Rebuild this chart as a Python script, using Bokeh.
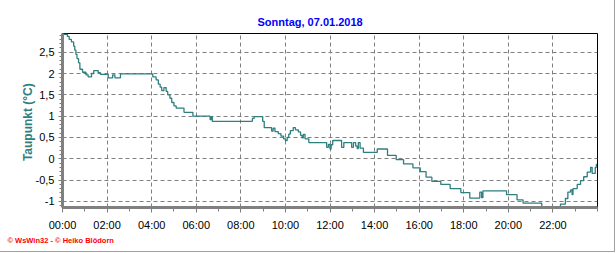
from bokeh.plotting import figure
from bokeh.models import FixedTicker, Range1d, Title
from bokeh.embed import file_html
from bokeh.resources import INLINE

title_text = "Sonntag, 07.01.2018"
y_label = "Taupunkt  (°C)"
footer_text = "© WsWin32  -  © Heiko Blödorn"

hours = [0.00, 0.22, 0.30, 0.40, 0.50, 0.55, 0.60, 0.65, 0.72, 0.78, 0.90, 1.05, 1.15, 1.30,
         1.40, 1.60, 1.70, 2.05, 2.25, 2.35, 2.60, 4.05, 4.20, 4.30, 4.38, 4.45, 4.55, 4.65,
         4.72, 4.82, 4.90, 5.00, 5.10, 5.45, 5.85, 6.62, 6.68, 6.72, 8.52, 8.60, 8.98, 9.05,
         9.38, 9.45, 9.53, 9.68, 9.80, 9.92, 10.00, 10.08, 10.15, 10.22, 10.35, 10.45, 10.58,
         10.68, 10.75, 10.80, 10.88, 11.05, 11.85, 11.93, 12.00, 12.05, 12.12, 12.52, 12.62,
         12.97, 13.05, 13.15, 13.22, 13.27, 13.35, 13.50, 14.12, 14.58, 14.97, 15.30, 15.72,
         16.05, 16.31, 16.57, 16.97, 17.39, 17.87, 18.27, 18.72, 18.80, 18.86, 19.92, 20.39,
         20.66, 21.50, 22.34, 22.56, 22.67, 22.79, 22.86, 22.90, 23.09, 23.24, 23.38, 23.54,
         23.69, 23.76, 23.90, 23.95, 23.98]
dewpoint = [2.92, 2.87, 2.80, 2.74, 2.64, 2.55, 2.45, 2.35, 2.25, 2.10, 2.03, 1.97, 1.92, 2.00,
            2.07, 2.02, 1.98, 1.90, 1.97, 1.90, 1.99, 1.92, 1.85, 1.75, 1.68, 1.60, 1.67, 1.58,
            1.50, 1.42, 1.32, 1.24, 1.19, 1.09, 1.00, 0.92, 0.99, 0.88, 0.95, 0.99, 0.88, 0.73,
            0.65, 0.72, 0.64, 0.59, 0.53, 0.47, 0.43, 0.50, 0.58, 0.66, 0.73, 0.68, 0.63,
            0.55, 0.49, 0.57, 0.47, 0.38, 0.27, 0.34, 0.23, 0.33, 0.43, 0.27, 0.38,
            0.27, 0.38, 0.30, 0.24, 0.38, 0.25, 0.15, 0.23, 0.08, -0.02, -0.12, -0.21,
            -0.30, -0.43, -0.53, -0.60, -0.70, -0.79, -0.92, -0.78, -0.91, -0.75, -0.84, -0.96,
            -1.04, -1.14, -1.06, -0.93, -0.78, -0.73, -0.84, -0.70, -0.60, -0.51, -0.42, -0.31,
            -0.20, -0.34, -0.20, -0.13, -0.13]

x_ticks = [0, 2, 4, 6, 8, 10, 12, 14, 16, 18, 20, 22]
x_tick_labels = ["00:00", "02:00", "04:00", "06:00", "08:00", "10:00", "12:00",
                 "14:00", "16:00", "18:00", "20:00", "22:00"]
y_ticks = [-1, -0.5, 0, 0.5, 1, 1.5, 2, 2.5]
y_tick_labels = ["-1", "-0,5", "0", "0,5", "1", "1,5", "2", "2,5"]

FONT = "Liberation Sans"
TEAL = "#2f7f7f"
AXIS_GRAY = "#808080"

p = figure(width=615, height=252, output_backend="svg", toolbar_location=None,
           x_range=Range1d(0, 24), y_range=Range1d(-1.141, 2.938),
           min_border_left=62, min_border_right=18, min_border_top=33, min_border_bottom=45)
p.styles = {"border-right": "1px solid #a0a0a0", "border-bottom": "1px solid #a0a0a0"}
p.background_fill_color = "white"
p.border_fill_color = "white"
p.outline_line_color = "black"
p.outline_line_width = 1

p.step(hours, dewpoint, mode="after", line_color=TEAL, line_width=1.3)

# x axis
xa = p.xaxis[0]
xa.ticker = FixedTicker(ticks=x_ticks, minor_ticks=list(range(0, 25)))
xa.major_label_overrides = {t: l for t, l in zip(x_ticks, x_tick_labels)}
xa.axis_line_color = AXIS_GRAY
xa.axis_line_width = 3
xa.major_tick_line_color = AXIS_GRAY
xa.minor_tick_line_color = AXIS_GRAY
xa.major_tick_line_width = 1
xa.minor_tick_line_width = 1
xa.major_tick_out = 5
xa.major_tick_in = 0
xa.minor_tick_out = 4
xa.minor_tick_in = 0
xa.major_label_standoff = 6
xa.major_label_text_font = FONT
xa.major_label_text_font_size = "11px"
xa.major_label_text_color = "black"

# y axis
ya = p.yaxis[0]
ya.ticker = FixedTicker(ticks=y_ticks, minor_ticks=[round(-1.1 + 0.1 * i, 2) for i in range(41)])
ya.major_label_overrides = {t: l for t, l in zip(y_ticks, y_tick_labels)}
ya.axis_line_color = AXIS_GRAY
ya.axis_line_width = 3
ya.major_tick_line_color = AXIS_GRAY
ya.minor_tick_line_color = AXIS_GRAY
ya.major_tick_out = 4
ya.major_tick_in = 0
ya.minor_tick_out = 3
ya.minor_tick_in = 0
ya.major_label_standoff = 4
ya.major_label_text_font = FONT
ya.major_label_text_font_size = "11px"
ya.major_label_text_color = "black"
ya.axis_label = y_label
ya.axis_label_text_font = FONT
ya.axis_label_text_font_size = "12px"
ya.axis_label_text_font_style = "bold"
ya.axis_label_text_color = TEAL
ya.axis_label_standoff = -2

for g in (p.xgrid[0], p.ygrid[0]):
    g.grid_line_color = AXIS_GRAY
    g.grid_line_dash = "4 3"
    g.grid_line_width = 1

title = Title(text=title_text, align="left", offset=195, standoff=12,
              text_font=FONT, text_font_size="11px", text_font_style="bold",
              text_color="#0000ff")
p.add_layout(title, "above")

footer = Title(text=footer_text, align="left", offset=-55, standoff=0,
               text_font=FONT, text_font_size="7.5px", text_font_style="bold",
               text_color="#ff0000")
p.add_layout(footer, "below")

open("out.html", "w").write(file_html(p, INLINE))
